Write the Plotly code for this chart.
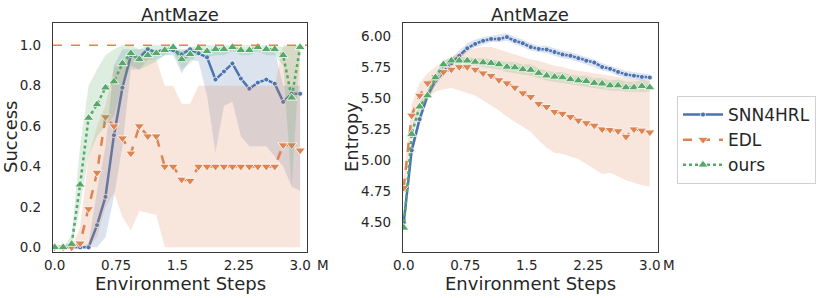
import plotly.graph_objects as go

# ---------------- data ----------------
series_names = ["SNN4HRL", "EDL", "ours"]
x_tick_vals = [0.0, 0.75, 1.5, 2.25, 3.0]
x_tick_text = ["0.0", "0.75", "1.5", "2.25", "3.0"]
succ_tick_vals = [0.0, 0.2, 0.4, 0.6, 0.8, 1.0]
ent_tick_vals = [4.50, 4.75, 5.00, 5.25, 5.50, 5.75, 6.00]

# environment steps (millions)
steps_left = [round(3.0 * k / 29, 4) for k in range(30)]
steps_right = [round(3.0 * k / 31, 4) for k in range(32)]

# Success (left panel)
succ_snn = [0, 0, 0, 0, 0, 0.11, 0.25, 0.555, 0.79, 0.95, 0.94, 0.98, 0.965, 0.98, 0.975,
            0.955, 0.98, 0.96, 0.94, 0.83, 0.87, 0.91, 0.835, 0.785, 0.815, 0.83, 0.81, 0.72, 0.76, 0.76]
succ_snn_lo = [0, 0, 0, 0, 0, 0, 0.05, 0.25, 0.5, 0.88, 0.88, 0.93, 0.93, 0.95, 0.95,
               0.86, 0.93, 0.92, 0.75, 0.47, 0.7, 0.72, 0.55, 0.5, 0.5, 0.5, 0.45, 0.4, 0.3, 0.28]
succ_snn_hi = [0, 0, 0, 0, 0.02, 0.28, 0.5, 0.9, 0.98, 0.98, 0.98, 0.98, 0.98, 0.98, 0.98,
               0.98, 0.98, 0.98, 0.98, 0.98, 0.98, 0.98, 0.98, 0.98, 0.98, 0.98, 0.97, 0.8, 0.8, 0.8]

succ_edl = [0, 0, 0, 0.02, 0.19, 0.37, 0.645, 0.6, 0.54, 0.465, 0.6, 0.55, 0.55, 0.40, 0.40,
            0.336, 0.33, 0.40, 0.40, 0.40, 0.40, 0.40, 0.40, 0.40, 0.40, 0.40, 0.40, 0.506, 0.506, 0.48]
succ_edl_lo = [0, 0, 0, 0, 0, 0.05, 0.2, 0.27, 0.15, 0.085, 0.18, 0.17, 0.16, 0, 0,
               0, 0, 0, 0, 0, 0, 0, 0, 0, 0, 0, 0, 0, 0, 0]
succ_edl_hi = [0, 0, 0, 0.1, 0.45, 0.6, 0.7, 0.89, 0.92, 0.94, 0.94, 0.94, 0.93, 0.80, 0.80,
               0.71, 0.71, 0.80, 0.80, 0.80, 0.80, 0.80, 0.80, 0.80, 0.80, 0.80, 0.80, 1.0, 1.0, 1.0]

succ_ours = [0, 0, 0.016, 0.31, 0.64, 0.707, 0.79, 0.82, 0.91, 0.96, 0.93, 0.95, 0.96, 0.975, 0.99,
             0.93, 0.955, 0.985, 0.97, 0.98, 0.98, 0.99, 0.975, 0.975, 0.99, 0.98, 0.98, 0.95, 0.74, 0.99]
succ_ours_lo = [0, 0, 0, 0.2, 0.45, 0.55, 0.6, 0.65, 0.8, 0.9, 0.88, 0.9, 0.92, 0.95, 0.97,
                0.88, 0.91, 0.96, 0.94, 0.95, 0.95, 0.97, 0.95, 0.95, 0.97, 0.95, 0.95, 0.9, 0.3, 0.97]
succ_ours_hi = [0, 0, 0.06, 0.5, 0.8, 0.88, 0.95, 0.98, 1, 1, 0.98, 1, 1, 1, 1,
                0.97, 0.99, 1, 1, 1, 1, 1, 1, 1, 1, 1, 1, 0.99, 1, 1]
succ_upper_line = 1.0

# Entropy (right panel)
ent_snn = [4.50, 5.08, 5.33, 5.52, 5.64, 5.71, 5.78, 5.84, 5.90, 5.935, 5.96, 5.975, 5.975, 5.99, 5.96, 5.94,
           5.91, 5.895, 5.89, 5.87, 5.85, 5.84, 5.82, 5.80, 5.785, 5.75, 5.735, 5.71, 5.69, 5.68, 5.67, 5.665]
ent_snn_lo = [4.45, 5.02, 5.28, 5.48, 5.60, 5.68, 5.75, 5.81, 5.87, 5.91, 5.93, 5.95, 5.95, 5.96, 5.93, 5.91,
              5.88, 5.87, 5.86, 5.84, 5.82, 5.81, 5.79, 5.77, 5.75, 5.72, 5.71, 5.68, 5.66, 5.65, 5.64, 5.64]
ent_snn_hi = [4.55, 5.13, 5.38, 5.56, 5.68, 5.75, 5.82, 5.88, 5.94, 5.97, 5.99, 6.00, 6.01, 6.02, 5.99, 5.97,
              5.94, 5.92, 5.92, 5.90, 5.88, 5.87, 5.85, 5.83, 5.81, 5.78, 5.76, 5.74, 5.72, 5.71, 5.70, 5.69]

ent_edl = [4.78, 5.36, 5.52, 5.62, 5.67, 5.71, 5.73, 5.75, 5.75, 5.73, 5.70, 5.68, 5.645, 5.62, 5.585, 5.54,
           5.51, 5.455, 5.43, 5.39, 5.375, 5.35, 5.32, 5.30, 5.28, 5.25, 5.245, 5.235, 5.19, 5.25, 5.24, 5.225]
ent_edl_lo = [4.70, 5.25, 5.40, 5.50, 5.55, 5.57, 5.58, 5.56, 5.54, 5.52, 5.48, 5.44, 5.40, 5.35, 5.31, 5.27,
              5.23, 5.16, 5.10, 5.06, 5.05, 5.03, 5.01, 4.97, 4.93, 4.89, 4.90, 4.87, 4.84, 4.82, 4.80, 4.79]
ent_edl_hi = [4.85, 5.45, 5.62, 5.70, 5.75, 5.80, 5.83, 5.86, 5.88, 5.90, 5.91, 5.91, 5.89, 5.87, 5.85, 5.83,
              5.81, 5.80, 5.78, 5.76, 5.75, 5.73, 5.72, 5.71, 5.70, 5.69, 5.68, 5.67, 5.66, 5.65, 5.65, 5.64]

ent_ours = [4.457, 5.21, 5.43, 5.52, 5.665, 5.77, 5.80, 5.80, 5.80, 5.79, 5.785, 5.78, 5.77, 5.75, 5.745, 5.73,
            5.725, 5.70, 5.68, 5.67, 5.665, 5.65, 5.64, 5.635, 5.62, 5.615, 5.60, 5.60, 5.585, 5.585, 5.595, 5.585]
ent_ours_lo = [4.43, 5.17, 5.39, 5.49, 5.63, 5.74, 5.77, 5.77, 5.77, 5.76, 5.75, 5.74, 5.73, 5.71, 5.70, 5.69,
               5.68, 5.66, 5.64, 5.63, 5.62, 5.61, 5.60, 5.59, 5.58, 5.57, 5.56, 5.56, 5.55, 5.55, 5.55, 5.55]
ent_ours_hi = [4.48, 5.25, 5.47, 5.56, 5.70, 5.80, 5.83, 5.83, 5.83, 5.82, 5.82, 5.81, 5.80, 5.79, 5.79, 5.77,
               5.77, 5.74, 5.72, 5.71, 5.71, 5.69, 5.68, 5.68, 5.66, 5.66, 5.64, 5.65, 5.63, 5.63, 5.64, 5.63]

# ---------------- styling ----------------
W, H = 831, 298
FONT = "DejaVu Sans"
TXT = "#262626"
colors = {"SNN4HRL": "#4c72b0", "EDL": "#dd8452", "ours": "#55a868"}
fills = {"SNN4HRL": "rgba(76,114,176,0.2)", "EDL": "rgba(221,132,82,0.2)", "ours": "rgba(85,168,104,0.2)"}
dashes = {"SNN4HRL": "solid", "EDL": "dash", "ours": "dot"}
symbols = {"SNN4HRL": "circle", "EDL": "triangle-down", "ours": "triangle-up"}
msize = {"SNN4HRL": 5, "EDL": 9, "ours": 9}


def px_x(p):
    return p / W


def px_y(p):
    return 1 - p / H


fig = go.Figure()


def add_series(name, xs, ys, lo, hi, xa, ya, legend):
    fig.add_trace(go.Scatter(
        x=list(xs) + list(xs)[::-1], y=list(hi) + list(lo)[::-1],
        fill="toself", fillcolor=fills[name], line=dict(width=0),
        mode="lines", hoverinfo="skip", showlegend=False, xaxis=xa, yaxis=ya))
    fig.add_trace(go.Scatter(
        x=xs, y=ys, name=name, mode="lines+markers", showlegend=legend, legendgroup=name,
        line=dict(color=colors[name], width=2.5, dash=dashes[name]),
        marker=dict(symbol=symbols[name], size=msize[name], color=colors[name],
                    line=dict(color="white", width=0.8)),
        xaxis=xa, yaxis=ya))


left = [("SNN4HRL", succ_snn, succ_snn_lo, succ_snn_hi),
        ("EDL", succ_edl, succ_edl_lo, succ_edl_hi),
        ("ours", succ_ours, succ_ours_lo, succ_ours_hi)]
right = [("SNN4HRL", ent_snn, ent_snn_lo, ent_snn_hi),
         ("EDL", ent_edl, ent_edl_lo, ent_edl_hi),
         ("ours", ent_ours, ent_ours_lo, ent_ours_hi)]

for name, ys, lo, hi in left:
    add_series(name, steps_left, ys, lo, hi, "x", "y", True)
for name, ys, lo, hi in right:
    add_series(name, steps_right, ys, lo, hi, "x2", "y2", False)

# orange dashed reference line at success 1.0
fig.add_shape(type="line", xref="x domain", yref="y", x0=0, x1=1,
              y0=succ_upper_line, y1=succ_upper_line,
              line=dict(color=colors["EDL"], width=1.3, dash="dash"))

ydom = [px_y(252), px_y(23)]
axis_common = dict(showline=True, mirror=True, linecolor="#3a3a3a", linewidth=1.3,
                   showgrid=False, zeroline=False, ticks="outside", automargin=False,
                   tickcolor="rgba(0,0,0,0)", tickfont=dict(family=FONT, size=13.5, color=TXT))

fig.update_layout(
    width=W, height=H, margin=dict(l=0, r=0, t=0, b=0, autoexpand=False),
    plot_bgcolor="white", paper_bgcolor="white",
    font=dict(family=FONT, color=TXT),
    xaxis=dict(domain=[px_x(53), px_x(307)], range=[-0.021, 3.084],
               tickvals=x_tick_vals, ticktext=x_tick_text, ticklen=1, anchor="y",
               **axis_common),
    yaxis=dict(domain=ydom, range=[-0.023, 1.11], tickvals=succ_tick_vals, tickformat=".1f",
               ticklen=8, anchor="x", **axis_common),
    xaxis2=dict(domain=[px_x(403), px_x(658)], range=[-0.009, 3.10],
                tickvals=x_tick_vals, ticktext=x_tick_text, ticklen=1, anchor="y2",
                **axis_common),
    yaxis2=dict(domain=ydom, range=[4.263, 6.103], tickvals=ent_tick_vals, tickformat=".2f",
                ticklen=8, anchor="x2", **axis_common),
    legend=dict(x=px_x(677), y=px_y(96), xanchor="left", yanchor="top",
                bgcolor="white", bordercolor="#d0d0d0", borderwidth=1,
                font=dict(family=FONT, size=17, color=TXT), tracegroupgap=0,
                itemwidth=40),
    showlegend=True,
)


def text_at(txt, x, y, size, angle=0, xanchor="center"):
    fig.add_annotation(text=txt, xref="paper", yref="paper", x=px_x(x), y=px_y(y),
                       showarrow=False, font=dict(family=FONT, size=size, color=TXT),
                       xanchor=xanchor, yanchor="middle", textangle=angle)


for cx in [180, 530]:
    text_at("AntMaze", cx, 14, 18)
for cx in [180, 530]:
    text_at("Environment Steps", cx, 283, 18)
text_at("Success", 10, 137, 18, angle=-90)
text_at("Entropy", 351, 137, 18, angle=-90)
for mx in [315, 661]:
    text_at("M", mx, 265, 13.5, xanchor="left")

fig.write_html("out.html", config={"displayModeBar": False},
               post_script="document.body.style.margin='0px';document.body.style.overflow='hidden';")
